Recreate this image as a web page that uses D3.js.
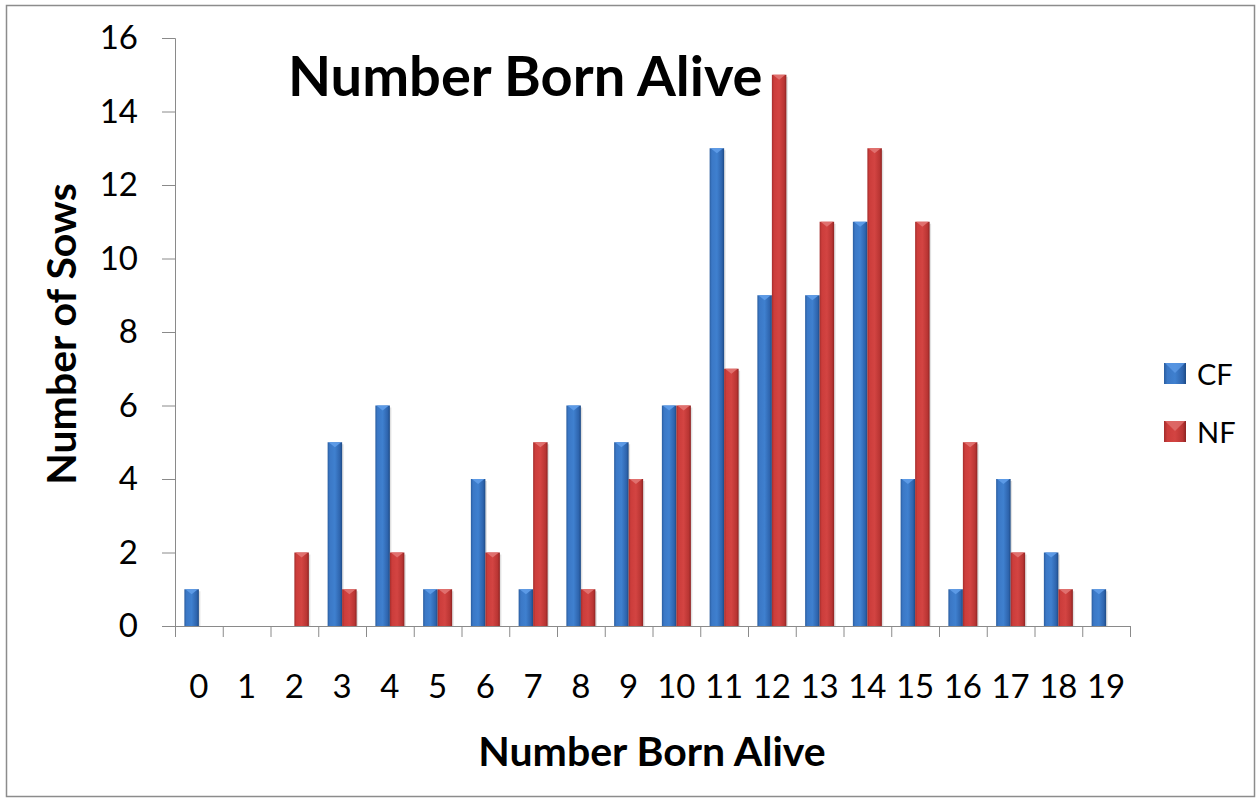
<!DOCTYPE html>
<html>
<head>
<meta charset="utf-8">
<script src="https://cdn.jsdelivr.net/npm/d3@7"></script>
<style>
  body { margin: 0; background: #fff; }
  text { font-family: Lato, "Open Sans", sans-serif; fill: #000; }
</style>
</head>
<body>
<div id="chart"></div>
<script>
// data
var categories = ["0","1","2","3","4","5","6","7","8","9","10","11","12","13","14","15","16","17","18","19"];
var cfValues = [1,0,0,5,6,1,4,1,6,5,6,13,9,9,11,4,1,4,2,1];
var nfValues = [0,0,2,1,2,1,2,5,1,4,6,7,15,11,13,11,5,2,1,0];
var yTicks = [0,2,4,6,8,10,12,14,16];
var seriesNames = ["CF","NF"];

var W = 1257, H = 799;
var plotL = 175, plotR = 1130, plotT = 38, plotB = 626;

var svg = d3.select("#chart").append("svg")
  .attr("width", W).attr("height", H);

// gradients for the excel-ish bevelled bars
var defs = svg.append("defs");
function grad(id, stops) {
  var g = defs.append("linearGradient").attr("id", id)
    .attr("x1", "0%").attr("x2", "100%").attr("y1", "0%").attr("y2", "0%");
  stops.forEach(function(s) {
    g.append("stop").attr("offset", s[0]).attr("stop-color", s[1]);
  });
}
grad("gBlue", [["0%","#2a5d9f"],["15%","#3b78c6"],["50%","#3f80cf"],["85%","#2e64ad"],["100%","#1d4a85"]]);
grad("gRed",  [["0%","#a42d2c"],["15%","#cc3d3b"],["50%","#d34442"],["85%","#b93533"],["100%","#8d2322"]]);
var tops = {CF: "#5c9ae6", NF: "#e0706e"};

// outer frame
svg.append("rect")
  .attr("x", 6.5).attr("y", 5.5).attr("width", 1248).attr("height", 791)
  .attr("fill", "none").attr("stroke", "#8c8c8c").attr("stroke-width", 1.5);

var x = d3.scaleBand().domain(categories).range([plotL, plotR]);
var y = d3.scaleLinear().domain([0, 16]).range([plotB, plotT]);
var bw = 14.5;

// y axis
var yAxis = svg.append("g")
  .attr("transform", "translate(" + plotL + ",0)")
  .call(d3.axisLeft(y).tickValues(yTicks).tickSize(13).tickPadding(24));
yAxis.select(".domain").attr("stroke", "#8a8a8a");
yAxis.selectAll(".tick line").attr("stroke", "#8a8a8a");
yAxis.selectAll(".tick text").style("font-size", "33px").style("font-family", "Lato").attr("fill", "#000");

// x axis: ticks between categories
var xg = svg.append("g");
xg.append("line")
  .attr("x1", plotL).attr("x2", plotR).attr("y1", plotB + 0.5).attr("y2", plotB + 0.5)
  .attr("stroke", "#8a8a8a");
var bounds = categories.map(function(c) { return x(c); }).concat([plotR]);
xg.selectAll("line.tk").data(bounds).enter().append("line")
  .attr("class", "tk")
  .attr("x1", function(d) { return d + 0.5; }).attr("x2", function(d) { return d + 0.5; })
  .attr("y1", plotB).attr("y2", plotB + 11)
  .attr("stroke", "#8a8a8a");
xg.selectAll("text").data(categories).enter().append("text")
  .attr("x", function(d) { return x(d) + x.bandwidth() / 2; })
  .attr("y", 698)
  .attr("text-anchor", "middle")
  .style("font-size", "33px")
  .text(function(d) { return d; });

// bars
function drawBars(values, name, offset, fillId) {
  var g = svg.append("g");
  var data = values.map(function(v, i) { return {c: categories[i], v: v}; }).filter(function(d) { return d.v > 0; });
  // soft shadow
  g.selectAll("rect.sh").data(data).enter().append("rect")
    .attr("x", function(d) { return x(d.c) + x.bandwidth() / 2 + offset + 1.5; })
    .attr("y", function(d) { return y(d.v) + 2; })
    .attr("width", bw).attr("height", function(d) { return plotB - y(d.v) - 2; })
    .attr("fill", "#000").attr("opacity", 0.12);
  g.selectAll("rect.b").data(data).enter().append("rect")
    .attr("x", function(d) { return x(d.c) + x.bandwidth() / 2 + offset; })
    .attr("y", function(d) { return y(d.v); })
    .attr("width", bw).attr("height", function(d) { return plotB - y(d.v); })
    .attr("fill", "url(#" + fillId + ")");
  // bevel on top
  g.selectAll("path.tp").data(data).enter().append("path")
    .attr("d", function(d) {
      var x0 = x(d.c) + x.bandwidth() / 2 + offset, yy = y(d.v);
      return "M" + (x0 + 1) + "," + yy + "L" + (x0 + bw - 1) + "," + yy + "L" + (x0 + bw / 2) + "," + (yy + 5) + "Z";
    })
    .attr("fill", tops[name]);
}
drawBars(cfValues, "CF", -bw, "gBlue");
drawBars(nfValues, "NF", 0, "gRed");

// legend
var lg = svg.append("g");
seriesNames.forEach(function(n, i) {
  var ly = 363 + i * 58;
  lg.append("rect").attr("x", 1164).attr("y", ly).attr("width", 22).attr("height", 21)
    .attr("fill", i == 0 ? "url(#gBlue)" : "url(#gRed)");
  lg.append("path")
    .attr("d", "M1165," + ly + "L1185," + ly + "L1175," + (ly + 10) + "Z")
    .attr("fill", tops[n]).attr("opacity", 0.8);
  lg.append("text").attr("x", 1197).attr("y", ly + 22).style("font-size", "29px").text(n);
});

// titles
svg.append("text").attr("x", 288).attr("y", 96)
  .style("font-size", "56px").style("font-weight", "bold").text("Number Born Alive");
svg.append("text").attr("x", 652).attr("y", 766).attr("text-anchor", "middle")
  .style("font-size", "41px").style("font-weight", "bold").text("Number Born Alive");
svg.append("text").attr("transform", "translate(76,334) rotate(-90)").attr("text-anchor", "middle")
  .style("font-size", "41px").style("font-weight", "bold").text("Number of Sows");
</script>
</body>
</html>
